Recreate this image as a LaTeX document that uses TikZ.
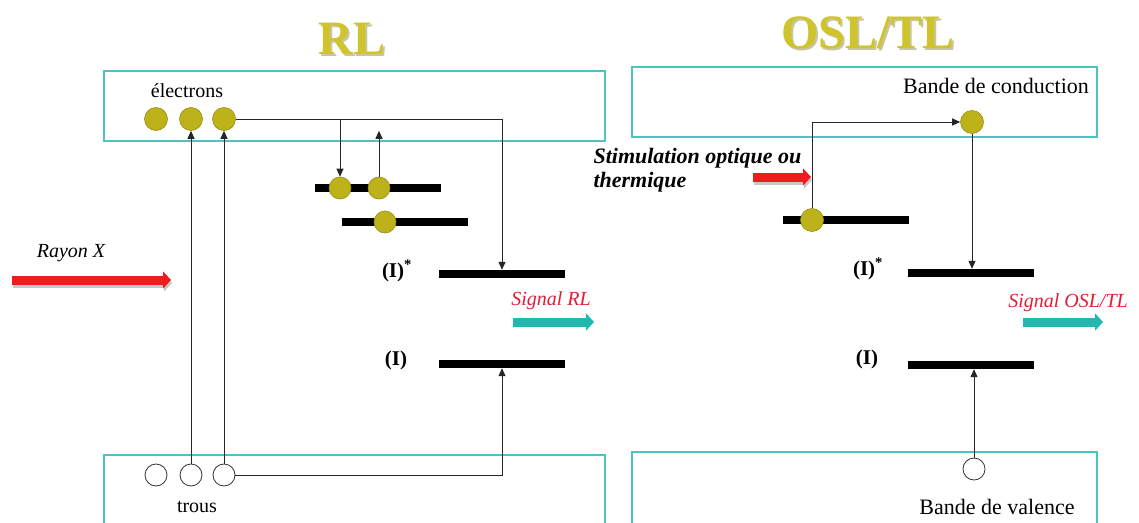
\documentclass[tikz,border=0pt]{standalone}
\usepackage{fontspec}
\setmainfont{Liberation Serif}
\usetikzlibrary{arrows.meta, positioning, calc}
\definecolor{bandteal}{HTML}{4CC4C4}
\definecolor{titleolive}{HTML}{CFC42C}
\definecolor{elecolive}{HTML}{BDB21A}
\definecolor{sigcyan}{HTML}{22B8B0}
\definecolor{rayred}{HTML}{EE1C1C}
\definecolor{sigred}{HTML}{E21E36}

\begin{document}
\begin{tikzpicture}[x=1pt,y=-1pt,
    band/.style={draw=bandteal, line width=1.1pt, minimum height=70pt, inner sep=0pt},
    elec/.style={circle, fill=elecolive, draw=elecolive!80!black, line width=0.6pt, minimum size=23pt, inner sep=0pt},
    hole/.style={circle, draw=black!80, fill=white, line width=0.8pt, minimum size=22pt, inner sep=0pt},
    level/.style={fill=black, minimum width=126pt, minimum height=8pt, inner sep=0pt},
    txt/.style={font=\fontsize{20}{24}\selectfont},
    lab/.style={font=\fontsize{21}{24}\selectfont\bfseries},
    sig/.style={font=\fontsize{20}{24}\selectfont\itshape, text=sigred},
    title/.style={font=\fontsize{48}{48}\selectfont\bfseries, text=titleolive},
    titleshadow/.style={font=\fontsize{48}{48}\selectfont\bfseries, text=olive!40!gray!50},
    link/.style={draw=black!85, line width=1pt},
    tip/.style={link, -{Triangle[length=8pt,width=7pt]}},
    big/.style={line width=9pt, -{Triangle[length=8pt,width=17pt]}},
    bigshadow/.style={big, black!22, transform canvas={shift={(1pt,-3pt)}}}]
  \clip (0,0) rectangle (1139,522);
  \fill[white] (0,0) rectangle (1139,522);

  % titres
  \node[titleshadow] (rlshadow) at (354,41) {RL};
  \node[title] (rltitle) at (352,39) {RL};
  \node[titleshadow] (oslshadow) at (870,35) {OSL/TL};
  \node[title] (osltitle) at (868,33) {OSL/TL};

  % ---- RL ----
  \node[band, minimum width=501pt] (cbL) at (354.5,106) {};
  \node[band, minimum width=501pt, minimum height=90pt] (bvL) at (354.5,500) {};
  \node[txt] (elab) at (187,91) {électrons};
  \node[elec] (e1) at (156,119) {};
  \node[elec] (e2) at (191,119) {};
  \node[elec] (e3) at (224,119) {};
  \node[hole] (h1) at (156,475) {};
  \node[hole] (h2) at (191,475) {};
  \node[hole] (h3) at (224,475) {};
  \node[txt] (tlab) at (197,507) {trous};

  \node[level] (pa) at (378,188) {};
  \node[level] (pb) at (404.5,222) {};
  \node[elec, minimum size=22pt] (ta) at (340,188) {};
  \node[elec, minimum size=22pt] (tb) at (379,188) {};
  \node[elec, minimum size=22pt] (tc) at (385,222) {};

  \node[level] (IsL) at (502,274) {};
  \node[level] (IL) at (502,364) {};
  \node[lab] (IsLlab) at (397,271) {(I)\textsuperscript{*}};
  \node[lab] (ILlab) at (396,360) {(I)};
  \node[sig] (sigRL) at (551,301) {Signal RL};
  \coordinate (sRLa) at (513,322);
  \coordinate (sRLb) at (594,322);
  \draw[big, sigcyan] (sRLa) -- (sRLb);

  \node[font=\fontsize{20}{24}\selectfont\itshape] (rx) at (71,253) {Rayon X};
  \coordinate (rxa) at (12,280);
  \coordinate (rxb) at (171,280);
  \draw[bigshadow] (rxa) -- (rxb);
  \draw[big, rayred] (rxa) -- (rxb);

  \draw[tip] (e3.east) -| (IsL.north);
  \draw[tip] (ta |- e3) -- (ta.north);
  \draw[tip] (tb.north) -- (tb |- e3.south);
  \draw[tip] (h2.north) -- (e2.south);
  \draw[tip] (h3.north) -- (e3.south);
  \draw[tip] (h3.east) -| (IL.south);

  % ---- OSL/TL ----
  \node[band, minimum width=465pt] (cbR) at (864.5,102) {};
  \node[band, minimum width=465pt, minimum height=90pt] (bvR) at (864.5,497) {};
  \node[txt, font=\fontsize{22}{24}\selectfont] (cbRlab) at (996,86) {Bande de conduction};
  \node[elec] (eR) at (972,122) {};
  \node[level] (pR) at (845.5,220) {};
  \node[elec] (tR) at (812,220) {};
  \node[level] (IsR) at (970.5,273) {};
  \node[level] (IR) at (970.5,365) {};
  \node[lab] (IsRlab) at (868,269) {(I)\textsuperscript{*}};
  \node[lab] (IRlab) at (867,359) {(I)};
  \node[hole] (hR) at (974,469) {};
  \node[txt, font=\fontsize{22}{24}\selectfont] (bvRlab) at (997,507) {Bande de valence};
  \node[sig] (sigOSL) at (1068,303) {Signal OSL/TL};
  \coordinate (sOSLa) at (1023,322);
  \coordinate (sOSLb) at (1103,322);
  \draw[big, sigcyan] (sOSLa) -- (sOSLb);

  \node[font=\fontsize{22}{24}\selectfont\bfseries\itshape, align=left, anchor=west] (stim) at (590,170)
    {Stimulation optique ou\\thermique};
  \coordinate (sta) at (753,177);
  \coordinate (stb) at (811,177);
  \draw[bigshadow] (sta) -- (stb);
  \draw[big, rayred] (sta) -- (stb);

  \draw[tip] (tR.north) |- (eR.west);
  \draw[tip] (eR.south) -- (eR |- IsR.north);
  \draw[tip] (hR.north) -- (hR |- IR.south);
\end{tikzpicture}
\end{document}
